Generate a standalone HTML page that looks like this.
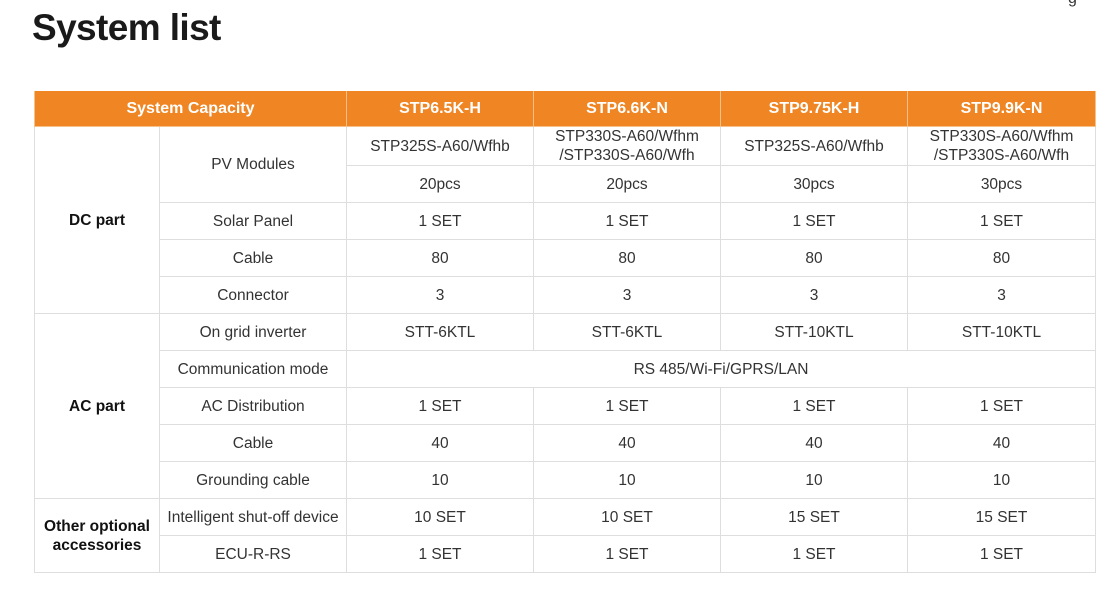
<!DOCTYPE html>
<html><head><style>
body{margin:0;width:1112px;height:595px;background:#fff;font-family:"Liberation Sans",sans-serif;position:relative;overflow:hidden}
h1{position:absolute;left:32px;top:7px;margin:0;font-size:37px;font-weight:bold;color:#1a1a1a;letter-spacing:-0.6px}
table{position:absolute;left:34px;top:91px;border-collapse:collapse;table-layout:fixed;width:1061px}
td,th{border:1px solid #dedede;text-align:center;vertical-align:middle;font-size:15.5px;color:#333;padding:0;height:36px;line-height:19px}
th{background:#ef8523;color:#fff;font-weight:bold;border-color:#f5c08a;border-top:none;font-size:16px;height:35px}
td.b{font-weight:bold;color:#111}
</style></head><body>
<h1>System list</h1>
<div style="position:absolute;left:1068px;top:-10px;font-size:16px;color:#333">g</div>
<table>
<colgroup><col style="width:125px"><col style="width:187px"><col style="width:187px"><col style="width:187px"><col style="width:187px"><col style="width:188px"></colgroup>
<tr><th colspan="2">System Capacity</th><th>STP6.5K-H</th><th>STP6.6K-N</th><th>STP9.75K-H</th><th>STP9.9K-N</th></tr>
<tr><td rowspan="5" class="b">DC part</td><td rowspan="2">PV Modules</td><td>STP325S-A60/Wfhb</td><td>STP330S-A60/Wfhm<br>/STP330S-A60/Wfh</td><td>STP325S-A60/Wfhb</td><td>STP330S-A60/Wfhm<br>/STP330S-A60/Wfh</td></tr>
<tr><td>20pcs</td><td>20pcs</td><td>30pcs</td><td>30pcs</td></tr>
<tr><td>Solar Panel</td><td>1 SET</td><td>1 SET</td><td>1 SET</td><td>1 SET</td></tr>
<tr><td>Cable</td><td>80</td><td>80</td><td>80</td><td>80</td></tr>
<tr><td>Connector</td><td>3</td><td>3</td><td>3</td><td>3</td></tr>
<tr><td rowspan="5" class="b">AC part</td><td>On grid inverter</td><td>STT-6KTL</td><td>STT-6KTL</td><td>STT-10KTL</td><td>STT-10KTL</td></tr>
<tr><td>Communication mode</td><td colspan="4">RS 485/Wi-Fi/GPRS/LAN</td></tr>
<tr><td>AC Distribution</td><td>1 SET</td><td>1 SET</td><td>1 SET</td><td>1 SET</td></tr>
<tr><td>Cable</td><td>40</td><td>40</td><td>40</td><td>40</td></tr>
<tr><td>Grounding cable</td><td>10</td><td>10</td><td>10</td><td>10</td></tr>
<tr><td rowspan="2" class="b">Other optional<br>accessories</td><td>Intelligent shut-off device</td><td>10 SET</td><td>10 SET</td><td>15 SET</td><td>15 SET</td></tr>
<tr><td>ECU-R-RS</td><td>1 SET</td><td>1 SET</td><td>1 SET</td><td>1 SET</td></tr>
</table>
</body></html>
